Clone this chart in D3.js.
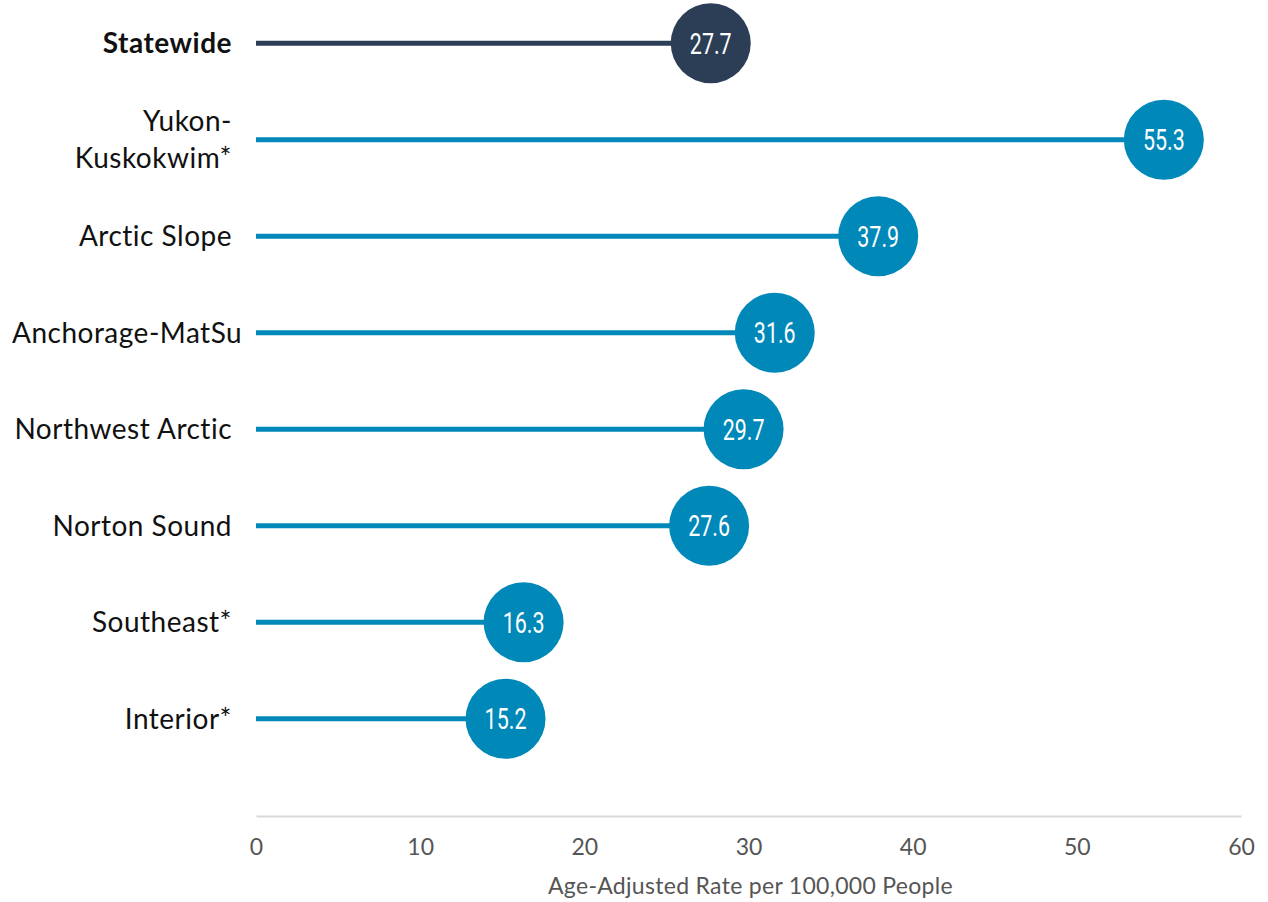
<!DOCTYPE html>
<html><head><meta charset="utf-8">
<script src="https://cdn.jsdelivr.net/npm/d3@7"></script>
<style>
html,body{margin:0;padding:0;background:#fff;}
svg{display:block;}
</style></head>
<body>
<svg id="chart" width="1268" height="902"></svg>
<script>
const categories = ["Statewide", "Yukon-Kuskokwim*", "Arctic Slope", "Anchorage-MatSu", "Northwest Arctic", "Norton Sound", "Southeast*", "Interior*"];
const labelLines = [["Statewide"], ["Yukon-", "Kuskokwim*"], ["Arctic Slope"], ["Anchorage-MatSu"], ["Northwest Arctic"], ["Norton Sound"], ["Southeast*"], ["Interior*"]];
const values = [27.7, 55.3, 37.9, 31.6, 29.7, 27.6, 16.3, 15.2];
const xTicks = [0, 10, 20, 30, 40, 50, 60];
const axisTitle = "Age-Adjusted Rate per 100,000 People";

const svg = d3.select("#chart");
const x = d3.scaleLinear().domain([0, 60]).range([256, 1241]);
const y = d3.scaleBand().domain(categories).range([-5, 767]).paddingInner(0).paddingOuter(0);
const cy = d => y(d) + y.bandwidth() / 2;
const colorOf = (d, i) => i === 0 ? "#2c3e56" : "#0088b9";

const rows = svg.append("g").selectAll("g").data(categories).join("g");

rows.append("line")
  .attr("x1", x(0)).attr("x2", (d, i) => x(values[i]))
  .attr("y1", d => cy(d)).attr("y2", d => cy(d))
  .attr("stroke", colorOf).attr("stroke-width", 5);

rows.append("circle")
  .attr("cx", (d, i) => x(values[i])).attr("cy", d => cy(d))
  .attr("r", 40).attr("fill", colorOf);

rows.append("text")
  .attr("transform", (d, i) => `translate(${x(values[i])},${cy(d)}) scale(0.74,1)`)
  .attr("dy", "0.36em")
  .attr("text-anchor", "middle")
  .attr("fill", "#fff")
  .style("font-family", "Roboto, 'Noto Sans', sans-serif")
  .style("font-size", "29px")
  .text((d, i) => values[i].toFixed(1));

// category labels
const labelRight = 232, labelMinLeft = 12;
rows.each(function(d, i) {
  const g = d3.select(this);
  const lines = labelLines[i];
  const lh = 37;
  const t = g.append("text")
    .attr("text-anchor", "end")
    .attr("fill", "#111")
    .style("font-family", "Lato, 'Noto Sans', sans-serif")
    .style("font-size", "28px")
    .style("letter-spacing", "0.5px")
    .style("font-weight", i === 0 ? "700" : "400");
  lines.forEach((ln, k) => {
    t.append("tspan").attr("x", labelRight)
      .attr("y", cy(d) + (k - (lines.length - 1) / 2) * lh)
      .attr("dy", "0.35em").text(ln);
  });
  const w = t.node().getBBox().width;
  if (labelRight - w < labelMinLeft) {
    t.attr("text-anchor", "start");
    t.selectAll("tspan").attr("x", labelMinLeft);
  }
});

// x axis
const axisY = 816;
const axis = svg.append("g").attr("transform", `translate(0,${axisY})`)
  .call(d3.axisBottom(x).tickValues(xTicks).tickSize(0).tickPadding(23).tickFormat(d3.format("d")));
axis.select(".domain").attr("stroke", "#d9d9d9").attr("stroke-width", 2);
axis.selectAll(".tick text")
  .attr("fill", "#555")
  .style("font-family", "Lato, 'Noto Sans', sans-serif")
  .style("font-size", "23px");

svg.append("text")
  .attr("x", (x(0) + x(60)) / 2 + 2).attr("y", 894)
  .attr("text-anchor", "middle")
  .attr("fill", "#555")
  .style("font-family", "Lato, 'Noto Sans', sans-serif")
  .style("font-size", "23px")
  .style("letter-spacing", "0.3px")
  .text(axisTitle);
</script>
</body></html>
